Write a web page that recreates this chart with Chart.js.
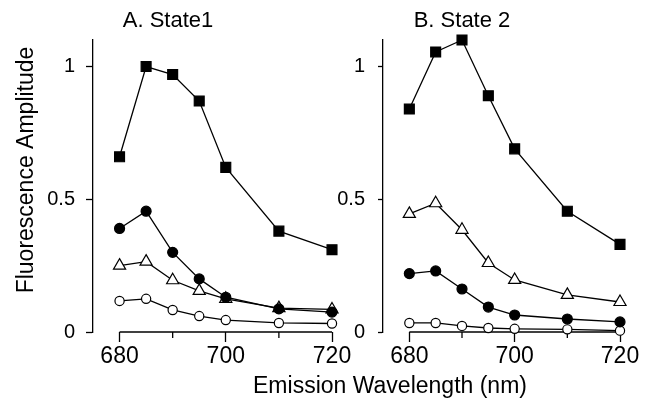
<!DOCTYPE html>
<html>
<head>
<meta charset="utf-8">
<script src="https://cdn.jsdelivr.net/npm/chart.js@4"></script>
<style>
html,body{margin:0;padding:0;background:#fff;overflow:hidden}
#wrap{position:relative;width:657px;height:398px;background:#fff}
canvas{position:absolute;top:0}
#c1{left:0}
#c2{left:330px}
</style>
</head>
<body>
<div id="wrap"><canvas id="c1" width="657" height="398"></canvas><canvas id="c2" width="327" height="398"></canvas></div>
<script>
// ---- data ----
const wavelengths = [680, 685, 690, 695, 700, 710, 720];
const xTicks = [680, 690, 700, 710, 720];
const xLabeledTicks = [680, 700, 720];
const yTicks = [0, 0.5, 1];
const panelTitles = ['A. State1', 'B. State 2'];
const yAxisTitle = 'Fluorescence Amplitude';
const xAxisTitle = 'Emission Wavelength (nm)';

const state1Squares = [0.66, 1.00, 0.97, 0.87, 0.62, 0.38, 0.31];
const state1Filled  = [0.39, 0.455, 0.30, 0.20, 0.131, 0.087, 0.075];
const state1Tri     = [0.25, 0.265, 0.195, 0.155, 0.125, 0.09, 0.085];
const state1Open    = [0.117, 0.125, 0.083, 0.06, 0.045, 0.034, 0.032];

const state2Squares = [0.84, 1.055, 1.10, 0.89, 0.69, 0.455, 0.33];
const state2Tri     = [0.445, 0.485, 0.385, 0.26, 0.196, 0.14, 0.113];
const state2Filled  = [0.22, 0.23, 0.162, 0.094, 0.064, 0.049, 0.038];
const state2Open    = [0.034, 0.034, 0.023, 0.015, 0.012, 0.01, 0.005];

const FONT = '"Liberation Sans", Arial, Helvetica, sans-serif';

function pts(vals){ return wavelengths.map((w,i)=>({x:w, y:vals[i]})); }

function ds(vals, style){
  const base = {data: pts(vals), borderColor:'#000', borderWidth:1.3, clip:false,
    pointBorderColor:'#000', pointBorderWidth:1.2, tension:0, fill:false};
  if (style==='sq') return Object.assign(base,{pointStyle:'rect', pointRadius:7, pointBackgroundColor:'#000'});
  if (style==='fc') return Object.assign(base,{pointStyle:'circle', pointRadius:5, pointBackgroundColor:'#000'});
  if (style==='tri') return Object.assign(base,{pointStyle:'triangle', pointRadius:7, pointBackgroundColor:'#fff'});
  return Object.assign(base,{pointStyle:'circle', pointRadius:4.6, pointBackgroundColor:'#fff'});
}

const deco = {
  id:'deco',
  beforeDatasetsDraw(chart, args, opts){
    const {ctx, scales:{x, y}} = chart;
    ctx.save();
    ctx.strokeStyle='#000'; ctx.lineWidth=1.3;
    const yb = y.getPixelForValue(0);
    const x0 = x.getPixelForValue(xTicks[0]);
    const x1 = x.getPixelForValue(xTicks[xTicks.length-1]);
    ctx.beginPath(); ctx.moveTo(x0, yb); ctx.lineTo(x1, yb); ctx.stroke();
    xTicks.filter(v=>!xLabeledTicks.includes(v)).forEach(v=>{
      const px = x.getPixelForValue(v);
      ctx.beginPath(); ctx.moveTo(px, yb); ctx.lineTo(px, yb+6); ctx.stroke();
    });
    ctx.restore();
  },
  afterDraw(chart, args, opts){
    const {ctx, chartArea} = chart;
    ctx.save();
    ctx.fillStyle='#000';
    ctx.textAlign='center'; ctx.textBaseline='alphabetic';
    ctx.font='22px '+FONT;
    ctx.fillText(opts.title, chartArea.left + opts.titleDx, 27);
    if (opts.yTitle){
      ctx.font='23px '+FONT;
      ctx.translate(33, 170);
      ctx.rotate(-Math.PI/2);
      ctx.fillText(opts.yTitle, 0, 0);
      ctx.setTransform(1,0,0,1,0,0);
    }
    if (opts.xTitle){
      ctx.font='23px '+FONT;
      ctx.fillText(opts.xTitle, 390, 393);
    }
    ctx.restore();
  }
};

function makeChart(id, datasets, yWidth, padRight, yTickLen, yPad, decoOpts){
  return new Chart(document.getElementById(id), {
    type:'line',
    data:{datasets},
    plugins:[deco],
    options:{
      responsive:false, animation:false, devicePixelRatio:1,
      layout:{padding:{left:0, right:padRight, top:40, bottom:0}},
      plugins:{legend:{display:false}, tooltip:{enabled:false}, deco:decoOpts},
      scales:{
        x:{type:'linear', min:675, max:720,
          afterFit:s=>{s.height=66;},
          afterBuildTicks:s=>{s.ticks = xTicks.map(v=>({value:v}));},
          border:{display:false},
          grid:{drawOnChartArea:false, drawTicks:true, tickLength:10, tickWidth:1.3,
            tickColor:c=> (c.tick && xLabeledTicks.includes(c.tick.value)) ? '#000' : 'rgba(0,0,0,0)'},
          ticks:{color:'#000', font:{family:FONT, size:23}, padding:1, maxRotation:0, autoSkip:false,
            callback:v=> xLabeledTicks.includes(v) ? String(v) : ''}
        },
        y:{type:'linear', min:0, max:1.1,
          afterFit:s=>{s.width=yWidth;},
          afterBuildTicks:s=>{s.ticks = yTicks.map(v=>({value:v}));},
          border:{display:true, color:'#000', width:1.3},
          grid:{drawOnChartArea:false, drawTicks:true, tickLength:yTickLen, tickWidth:1.3, tickColor:'#000'},
          ticks:{color:'#000', font:{family:FONT, size:20}, padding:yPad, callback:v=>String(v)}
        }
      }
    }
  });
}

makeChart('c1', [ds(state1Squares,'sq'), ds(state1Filled,'fc'), ds(state1Tri,'tri'), ds(state1Open,'oc')],
  93, 657-332, 7, 11, {title:panelTitles[0], titleDx:75, yTitle:yAxisTitle, xTitle:xAxisTitle});
makeChart('c2', [ds(state2Squares,'sq'), ds(state2Tri,'tri'), ds(state2Filled,'fc'), ds(state2Open,'oc')],
  53, 327-290, 5, 13, {title:panelTitles[1], titleDx:79});
</script>
</body>
</html>
